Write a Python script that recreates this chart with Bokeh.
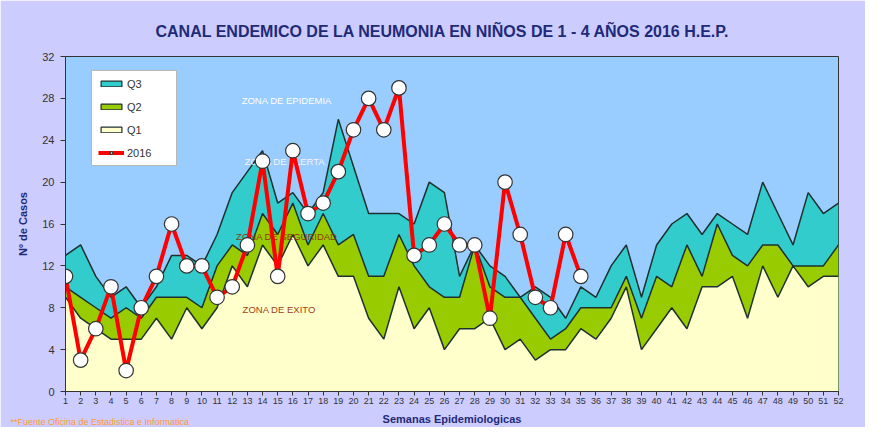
from bokeh.plotting import figure
from bokeh.models import Range1d, FixedTicker, Legend, LegendItem, Title, ColumnDataSource
from bokeh.core.properties import value
from bokeh.embed import file_html
from bokeh.resources import INLINE

weeks = list(range(1, 53))
q1 = [9, 7, 6, 5, 5, 5, 7, 5, 8, 6, 8, 12, 10, 14, 12, 15, 12, 14, 11, 11, 7, 5, 10, 6, 8, 4,
      6, 6, 7, 4, 5, 3, 4, 4, 6, 5, 7, 10, 4, 6, 8, 6, 10, 10, 11, 7, 12, 9, 12, 10, 11, 11]
q2 = [10, 9, 8, 7, 8, 7, 9, 9, 9, 8, 12, 14, 13, 17, 15, 18, 14, 17, 14, 15, 11, 11, 15, 12, 10, 9,
      9, 14, 10, 9, 9, 7, 5, 6, 8, 8, 8, 11, 7, 11, 10, 14, 11, 16, 13, 12, 14, 14, 12, 12, 12, 14]
q3 = [13, 14, 11, 9, 10, 8, 10, 13, 13, 12, 15, 19, 21, 23, 18, 19, 17, 19, 26, 21.5, 17, 17, 17, 16, 20, 19,
      11, 14, 12, 11, 9, 10, 9, 7, 10, 9, 12, 14, 9, 14, 16, 17, 15, 17, 16, 15, 20, 17, 14, 19, 17, 18]
weeks_2016 = list(range(1, 36))
cases_2016 = [11, 3, 6, 10, 2, 8, 11, 16, 12, 12, 9, 10, 14, 22, 11, 23, 17, 18, 21, 25, 28, 25, 29,
              13, 14, 16, 14, 14, 7, 20, 15, 9, 8, 15, 11]
y_ticks = [0, 4, 8, 12, 16, 20, 24, 28, 32]
zone_names = ["ZONA DE EPIDEMIA", "ZONA DE ALERTA", "ZONA DE SEGURIDAD", "ZONA DE EXITO"]
zone_x = [15.6, 15.5, 15.6, 15.1]
zone_y = [27.8, 22.0, 14.8, 7.8]
zone_colors = ["#FFFFFF", "#F4F4F4", "#8B3A10", "#A0401A"]
footnote = "**Fuente Oficina de Estadistica e Informatica"

FONT = "Liberation Sans"
NAVY = "#1F2A78"

p = figure(width=865, height=427, output_backend="svg", toolbar_location=None,
           x_range=Range1d(1, 52), y_range=Range1d(0, 32),
           min_border_left=65, min_border_right=27, min_border_top=56, min_border_bottom=36)
p.background_fill_color = "#99CCFF"
p.border_fill_color = "#CCCCFF"
p.outline_line_color = "#333333"
p.outline_line_width = 1
p.xgrid.visible = False
p.ygrid.visible = False

src = ColumnDataSource(dict(w=weeks, q1=q1, q2=q2, q3=q3))
p.varea(x="w", y1=0, y2="q3", source=src, fill_color="#33CCCC")
p.varea(x="w", y1=0, y2="q2", source=src, fill_color="#99CC00")
p.varea(x="w", y1=0, y2="q1", source=src, fill_color="#FFFFCC")
for col in ["q3", "q2", "q1"]:
    p.line(x="w", y=col, source=src, line_color="#1E3030", line_width=1.5)

p.text(x=zone_x, y=zone_y, text=zone_names, text_color=zone_colors,
       text_font=value(FONT), text_font_size="9.5px", text_align="center", text_baseline="middle")

s2016 = ColumnDataSource(dict(w=weeks_2016, c=cases_2016))
l2016 = p.line(x="w", y="c", source=s2016, line_color="#FF0000", line_width=4)
m2016 = p.scatter(x="w", y="c", source=s2016, size=14.5, fill_color="white",
                  line_color="#333333", line_width=1.2)

def proxy(color):
    return p.quad(left=[-10], right=[-9], bottom=[-10], top=[-9], fill_color=color,
                  line_color="#1E3030", line_width=1.2)

r3 = proxy("#33CCCC")
r2 = proxy("#99CC00")
r1 = proxy("#FFFFCC")
lm = p.scatter(x=[-10], y=[-10], size=8, fill_color="white", line_color="#333333", line_width=1.2)

legend = Legend(items=[LegendItem(label="Q3", renderers=[r3]),
                       LegendItem(label="Q2", renderers=[r2]),
                       LegendItem(label="Q1", renderers=[r1]),
                       LegendItem(label="2016", renderers=[l2016, lm])],
                location=(26, 225), orientation="vertical",
                glyph_width=26, glyph_height=7, label_height=13, spacing=10,
                padding=6, margin=0, label_standoff=3, label_width=43,
                label_text_font=FONT, label_text_font_size="11px", label_text_color="#333333",
                background_fill_color="white", background_fill_alpha=1,
                border_line_color="#707070", border_line_width=1)
legend.label_text_baseline = "middle"
p.add_layout(legend, "center")

# footnote drawn at overlay level so that it is not clipped to the frame
p.text(x=[-2.63], y=[-2.96], text=[footnote], text_color="#FF9933", level="overlay",
       text_font=value(FONT), text_font_size="9px", text_align="left", text_baseline="middle")

p.xaxis.ticker = FixedTicker(ticks=weeks)
p.yaxis.ticker = FixedTicker(ticks=y_ticks)
for ax in [p.xaxis[0], p.yaxis[0]]:
    ax.axis_line_color = "#333333"
    ax.major_tick_line_color = "#333333"
    ax.minor_tick_line_color = None
    ax.major_tick_in = 0
    ax.major_label_text_font = FONT
    ax.major_label_text_color = "#333333"
    ax.axis_label_text_font = FONT
    ax.axis_label_text_font_style = "bold"
    ax.axis_label_text_color = NAVY
    ax.axis_label_text_font_size = "11px"
p.xaxis.major_tick_out = 4
p.xaxis.major_label_text_font_size = "9px"
p.xaxis.major_label_standoff = 2
p.xaxis.axis_label = "Semanas Epidemiologicas"
p.xaxis.axis_label_standoff = 6
p.yaxis.major_tick_out = 5
p.yaxis.major_label_text_font_size = "11px"
p.yaxis.major_label_standoff = 6
p.yaxis.axis_label = "Nº de Casos"
p.yaxis.axis_label_standoff = 10

title = Title(text="CANAL ENDEMICO DE LA NEUMONIA EN NIÑOS DE 1 - 4 AÑOS 2016 H.E.P.",
              align="left", text_font=FONT, text_font_size="16px", text_font_style="bold",
              text_color=NAVY, standoff=33, offset=90)
p.add_layout(title, "above")

open("out.html", "w").write(file_html(p, INLINE))
